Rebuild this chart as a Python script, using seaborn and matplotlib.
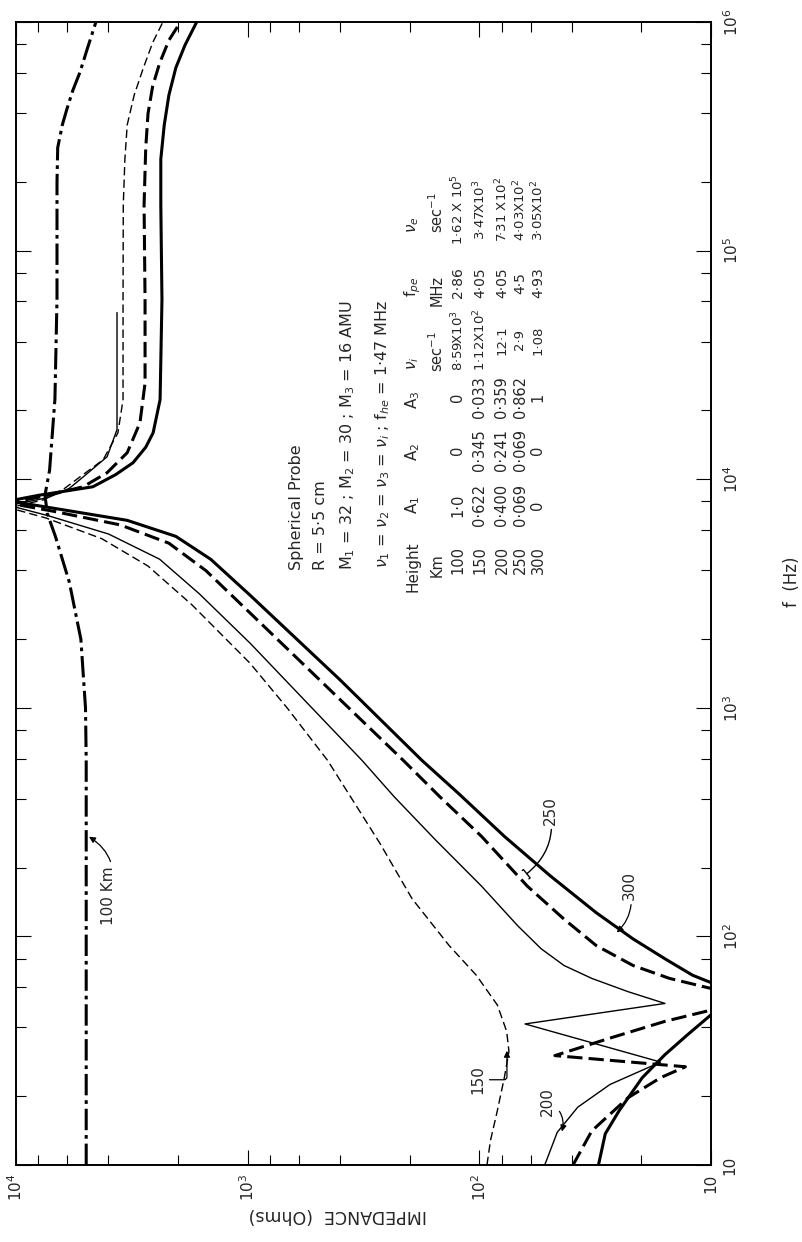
import pandas as pd
import seaborn as sns
import matplotlib.pyplot as plt
from matplotlib.ticker import FixedLocator, LogLocator, NullFormatter

# Impedance of a spherical probe vs frequency for several heights.
# The original page is printed rotated 90 deg, so impedance runs along the
# horizontal axis (decreasing to the right) and frequency runs upward.

# frequency (Hz) / impedance (Ohms)
F_100 = [10, 100, 589, 1000, 1995, 3548, 5623, 7079, 8511, 10960, 22390,
         61660, 199500, 281800, 354800, 416900, 501200, 602600, 776200, 1e6]
Z_100 = [4977, 4977, 4977, 5012, 5248, 5888, 6761, 7328, 7499, 7161, 6792,
         6653, 6653, 6607, 6310, 6026, 5689, 5297, 4898, 4519]

F_150 = [10, 12.8, 17.3, 24.1, 31.4, 38.4, 50.1, 67.6, 91.2, 146, 256, 589,
         1000, 1567, 2818, 4169, 5495, 6761, 7499, 8128, 9120, 10230, 12160,
         15960, 22280, 61090, 158500, 251200, 354800, 478600, 631000, 812800, 1e6]
Z_150 = [92.7, 89.5, 83.6, 78.0, 74.5, 76.2, 83.6, 103, 135, 195, 269, 452,
         676, 977, 1738, 2692, 4266, 7413, 10700, 7586, 6166, 5297, 4207,
         3631, 3451, 3451, 3443, 3388, 3311, 3090, 2818, 2570, 2323]

F_200 = [10, 13.9, 17.9, 22.5, 28.2, 41.4, 50.9, 57.3, 65.5, 74.6, 88.3, 111,
         166, 265, 408, 589, 1919, 3162, 4467, 5754, 6918, 7674, 8318, 9120,
         10230, 12530, 16480, 53580]
Z_200 = [52.2, 46.1, 37.6, 27.3, 16.5, 63.5, 15.8, 22.8, 32.7, 43.1, 54.1, 68.1,
         97.9, 155, 233, 321, 977, 1622, 2399, 3981, 7244, 10700, 7244, 5888,
         5129, 4046, 3664, 3664]

F_250 = [10, 14.1, 19.7, 24.1, 26.9, 30.1, 35.9, 42.5, 47.6, 53.1, 59.2, 65.5,
         74.6, 91.2, 119, 166, 274, 408, 589, 2600, 3981, 5248, 6310, 7244,
         7852, 8511, 9268, 10670, 13060, 17660, 26300, 61090, 158500, 281800,
         398100, 524800, 660700, 831800, 1e6]
Z_250 = [39.4, 32.7, 22.8, 16.5, 12.9, 47.2, 27.3, 15.8, 10.0, 7.1, 10.0, 15.1,
         21.7, 31.3, 43.1, 62.1, 97.9, 148, 213, 977, 1514, 2188, 3548, 6918,
         10700, 7244, 5129, 4046, 3311, 2917, 2773, 2773, 2800, 2754,
         2692, 2570, 2399, 2188, 1950]

F_300 = [10, 13.7, 17.3, 24.1, 30.4, 37.2, 45.4, 52.5, 62.8, 67.6, 79.8, 97.5,
         127, 184, 274, 422, 589, 1321, 3110, 4467, 5623, 6607, 7413, 8035,
         8511, 9268, 10470, 11800, 13800, 15960, 22280, 61090, 158500, 251200,
         354800, 478600, 631000, 794300, 1e6]
Z_300 = [30.6, 28.6, 24.9, 19.8, 15.8, 12.6, 10.0, 7.6, 10.0, 12.0, 15.8, 21.7,
         31.3, 49.4, 78, 123, 177, 398, 977, 1445, 2042, 3311, 6607, 10700,
         7943, 4656, 3715, 3126, 2754, 2559, 2388, 2344, 2371, 2371,
         2291, 2188, 2042, 1862, 1660]

# parameter table printed inside the plot
HEIGHTS = ['100', '150', '200', '250', '300']
A1 = ['1·0', '0·622', '0·400', '0·069', '0']
A2 = ['0', '0·345', '0·241', '0·069', '0']
A3 = ['0', '0·033', '0·359', '0·862', '1']
NU_I = ['8·59X10$^3$', '1·12X10$^2$', '12·1', '2·9', '1·08']
F_PE = ['2·86', '4·05', '4·05', '4·5', '4·93']
NU_E = ['1·62 X 10$^5$', '3·47X10$^3$', '7·31 X10$^2$', '4·03X10$^2$', '3·05X10$^2$']

X_TICKS = [10, 100, 1000, 10000]
X_LABELS = ['10', '$10^2$', '$10^3$', '$10^4$']
Y_TICKS = [10, 100, 1e3, 1e4, 1e5, 1e6]
Y_LABELS = ['10', '$10^2$', '$10^3$', '$10^4$', '$10^5$', '$10^6$']

if __name__ == '__main__':
    sns.set_theme(style="ticks")
    plt.rcParams['font.family'] = ['DejaVu Sans']
    plt.rcParams['mathtext.fontset'] = 'dejavusans'

    curves = [('100', F_100, Z_100), ('150', F_150, Z_150), ('200', F_200, Z_200),
              ('250', F_250, Z_250), ('300', F_300, Z_300)]
    df = pd.concat([pd.DataFrame({'height': h, 'f': f, 'Z': z}) for h, f, z in curves],
                   ignore_index=True)

    styles = {'100': (2.2, (0, (7, 1.6, 1.2, 1.6))),
              '150': (1.0, (0, (6, 3))),
              '200': (1.0, '-'),
              '250': (2.2, (0, (5, 2))),
              '300': (2.2, '-')}

    W, H = 803, 1242
    fig = plt.figure(figsize=(W / 100, H / 100), dpi=100)
    ax = fig.add_axes([16 / W, 1 - 1165 / H, (711 - 16) / W, (1165 - 22) / H])

    for h, (lw, ls) in styles.items():
        sns.lineplot(data=df[df['height'] == h], x='Z', y='f', sort=False,
                     estimator=None, color='black', linewidth=lw, linestyle=ls,
                     ax=ax, legend=False)

    ax.set_xscale('log')
    ax.set_yscale('log')
    ax.set_xlim(1e4, 10)
    ax.set_ylim(10, 1e6)
    ax.set_xlabel('')
    ax.set_ylabel('')

    ax.xaxis.set_major_locator(FixedLocator(X_TICKS))
    ax.set_xticklabels(X_LABELS)
    ax.xaxis.set_minor_locator(LogLocator(base=10, subs=(2, 4, 6, 8)))
    ax.xaxis.set_minor_formatter(NullFormatter())
    ax.yaxis.set_major_locator(FixedLocator(Y_TICKS))
    ax.set_yticklabels(Y_LABELS)
    ax.yaxis.set_minor_locator(LogLocator(base=10, subs=(2, 4, 6, 8)))
    ax.yaxis.set_minor_formatter(NullFormatter())

    ax.tick_params(which='both', direction='in', top=True, bottom=True, left=True,
                   right=True, labelleft=False, labelright=True, labeltop=False,
                   labelbottom=True, color='black', width=0.8)
    ax.tick_params(which='major', length=11, labelsize=11, labelrotation=90)
    ax.tick_params(which='minor', length=7)
    ax.tick_params(axis='y', pad=8)
    ax.tick_params(axis='x', pad=6)
    for lbl in ax.get_yticklabels():
        lbl.set_verticalalignment('center')
    for sp in ax.spines.values():
        sp.set_linewidth(1.4)
        sp.set_color('black')

    # curve labels
    arrow = dict(arrowstyle='-|>', color='black', lw=0.9, mutation_scale=9,
                 shrinkA=1, shrinkB=0)
    ax.annotate('100 Km', xy=(4840, 273), xytext=(3975, 151), rotation=90,
                ha='center', va='center', fontsize=11,
                arrowprops=dict(arrow, connectionstyle='arc3,rad=0.4'))
    ax.annotate('150', xy=(76, 31.6), xytext=(102, 23.6), rotation=90,
                ha='center', va='center', fontsize=11,
                arrowprops=dict(arrow, connectionstyle='angle,angleA=0,angleB=90,rad=3'))
    ax.annotate('200', xy=(44, 14), xytext=(50.6, 18.9), rotation=90,
                ha='center', va='center', fontsize=11,
                arrowprops=dict(arrow, connectionstyle='arc3,rad=-0.4'))
    ax.annotate('250', xy=(62.4, 188), xytext=(49.5, 356), rotation=90,
                ha='center', va='center', fontsize=11,
                arrowprops=dict(arrowstyle='-[, widthB=0.35, lengthB=0.1', color='black',
                                lw=1.0, shrinkA=1, shrinkB=0,
                                connectionstyle='arc3,rad=-0.3'))
    ax.annotate('300', xy=(25.5, 104), xytext=(22.6, 167), rotation=90,
                ha='center', va='center', fontsize=11,
                arrowprops=dict(arrow, connectionstyle='arc3,rad=-0.3'))

    def vtext(x, y, s, size=10.5, va='center'):
        fig.text(x / W, 1 - y / H, s, rotation=90, ha='center', va=va, fontsize=size)

    vtext(297, 570, 'Spherical Probe', size=11.5, va='bottom')
    vtext(321, 570, 'R = 5·5 cm', size=11.5, va='bottom')
    vtext(348, 570, 'M$_1$ = 32 ; M$_2$ = 30 ; M$_3$ = 16 AMU', size=11.5, va='bottom')
    vtext(383, 568, r'$\nu_1$ = $\nu_2$ = $\nu_3$ = $\nu_i$ ; f$_{he}$ = 1·47 MHz',
          size=11.5, va='bottom')

    col_y = [560, 505, 450, 397, 340, 283, 210]
    col_size = [10.5, 10.5, 10.5, 10.5, 9.5, 10, 9.5]
    head_y = [567, 505, 452, 400, 363, 287, 225]
    heads = ['Height', 'A$_1$', 'A$_2$', 'A$_3$', r'$\nu_i$', 'f$_{pe}$', r'$\nu_e$']
    for s, y in zip(heads, head_y):
        vtext(413, y, s, size=11)
    for s, y in zip(['Km', 'sec$^{-1}$', 'MHz', 'sec$^{-1}$'], [565, 352, 291, 213]):
        vtext(437, y, s, size=10.5)
    row_x = [458, 480, 502, 520, 538]
    for j, col in enumerate([HEIGHTS, A1, A2, A3, NU_I, F_PE, NU_E]):
        for x, s in zip(row_x, col):
            vtext(x, col_y[j], s, size=col_size[j])

    fig.text(792 / W, 1 - 582 / H, 'f  (Hz)', rotation=90, ha='center', va='center',
             fontsize=12)
    fig.text(338 / W, 1 - 1215 / H, 'IMPEDANCE  (Ohms)', rotation=180, ha='center',
             va='center', fontsize=12.5)

    fig.savefig('out.png', dpi=100)
